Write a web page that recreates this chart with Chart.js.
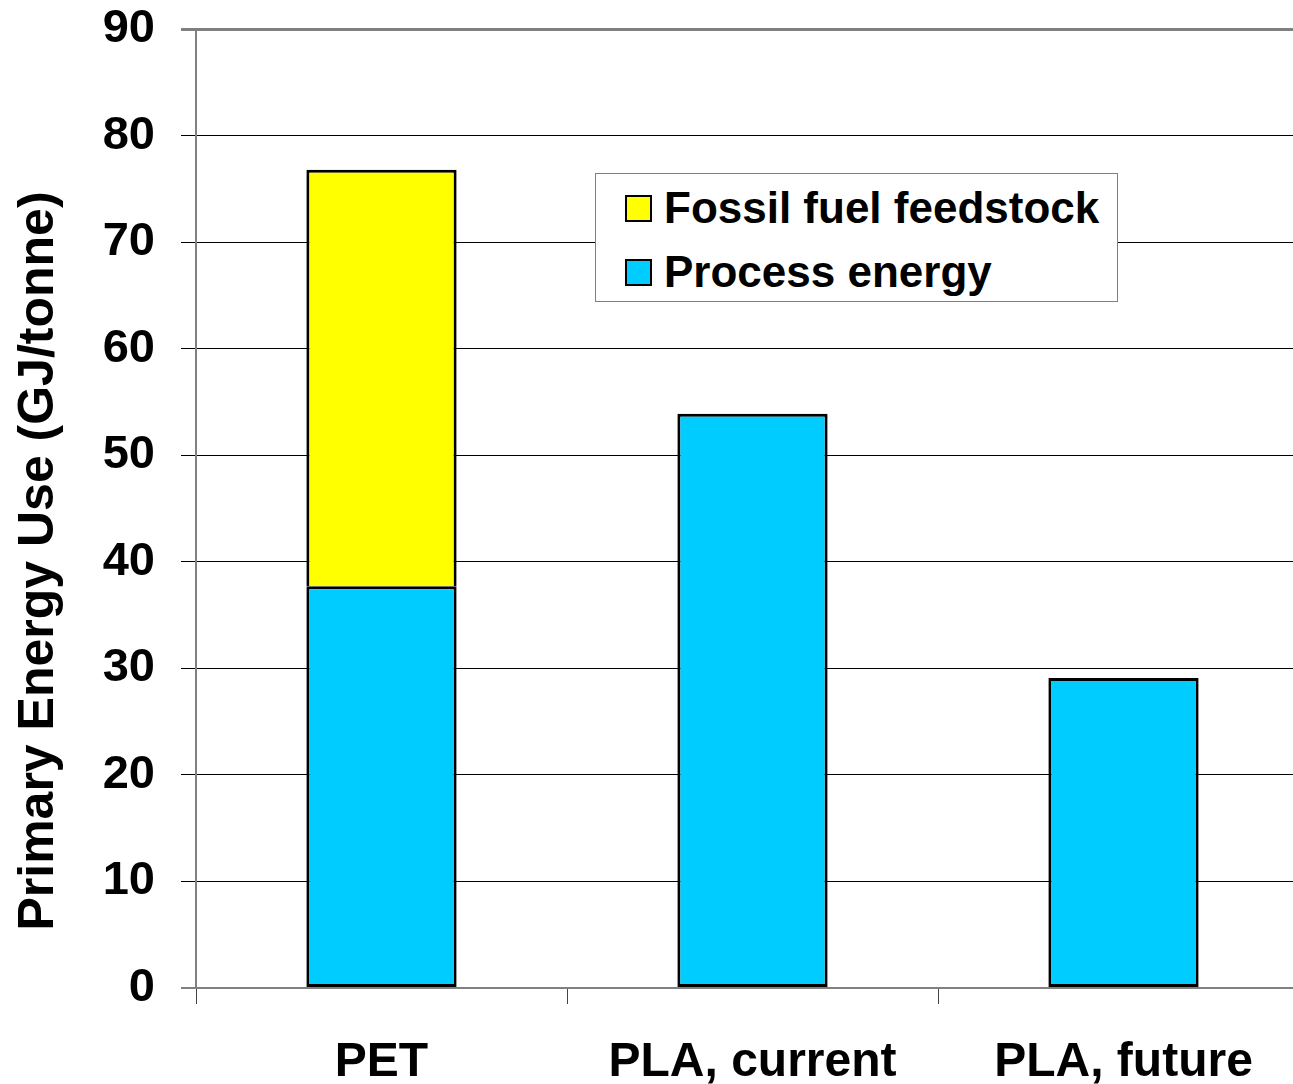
<!DOCTYPE html>
<html>
<head>
<meta charset="utf-8">
<script src="https://cdn.jsdelivr.net/npm/chart.js@4.4.1/dist/chart.umd.min.js"></script>
<style>
  html, body { margin: 0; padding: 0; background: #fff; overflow: hidden; }
  #wrap { position: relative; width: 1310px; height: 1084px; }
  #legend {
    position: absolute; left: 595px; top: 173px; width: 521px; height: 127px;
    border: 1px solid #808080; background: #fff;
    font-family: "Liberation Sans", Arial, sans-serif; font-weight: bold; font-size: 44px; color: #000;
  }
  .item { position: absolute; left: 29px; height: 50px; display: flex; align-items: center; }
  .swatch { width: 23px; height: 23px; border: 2px solid #000; margin-right: 12px; }
</style>
</head>
<body>
<div id="wrap">
  <canvas id="chart" width="1310" height="1084"></canvas>
  <div id="legend"></div>
</div>
<script>
const categories = ['PET', 'PLA, current', 'PLA, future'];
const processEnergy = [37.7, 53.9, 29.1];
const fossilFeedstock = [39.1, null, null];
const yTicks = [0, 10, 20, 30, 40, 50, 60, 70, 80, 90];
const yTitle = 'Primary Energy Use (GJ/tonne)';

const FONT = '"Liberation Sans", Arial, sans-serif';
const GRAY = '#808080';

// y axis title sits a bit lower than the plot centre, so draw it ourselves
const yTitlePlugin = {
    id: 'yTitle',
    afterDraw(chart) {
        const c = chart.ctx;
        c.save();
        c.translate(53, 561);
        c.rotate(-Math.PI / 2);
        c.font = 'bold 50px ' + FONT;
        c.fillStyle = '#000';
        c.textAlign = 'center';
        c.textBaseline = 'alphabetic';
        c.fillText(yTitle, 0, 0);
        c.restore();
    }
};

const chart = new Chart(document.getElementById('chart'), {
    type: 'bar',
    data: {
        labels: categories,
        datasets: [
            { label: 'Process energy', data: processEnergy, backgroundColor: '#00ccff', borderColor: '#000', borderWidth: 3, borderSkipped: false },
            { label: 'Fossil fuel feedstock', data: fossilFeedstock, backgroundColor: '#ffff00', borderColor: '#000', borderWidth: 3, borderSkipped: 'start' }
        ]
    },
    options: {
        responsive: false,
        animation: false,
        layout: { padding: { top: 29, right: 1, left: 0, bottom: 0 } },
        datasets: { bar: { barPercentage: 0.405, categoryPercentage: 1 } },
        plugins: { legend: { display: false }, tooltip: { enabled: false } },
        scales: {
            x: {
                stacked: true,
                afterFit: (s) => { s.height = 96; },
                border: { display: true, color: GRAY, width: 2 },
                grid: { drawOnChartArea: false, drawTicks: true, tickLength: 16, color: '#444', lineWidth: 1 },
                ticks: { color: '#000', padding: 30, font: { family: FONT, size: 48, weight: 'bold' } }
            },
            y: {
                stacked: true,
                min: yTicks[0],
                max: yTicks[yTicks.length - 1],
                afterFit: (s) => { s.width = 196; s.paddingTop = 0; s.paddingBottom = 0; },
                afterBuildTicks: (s) => { s.ticks = yTicks.map(v => ({ value: v })); },
                border: { display: true, color: GRAY, width: 2 },
                grid: {
                    tickLength: 15,
                    color: (ctx) => (ctx.tick && (ctx.tick.value === 90 || ctx.tick.value === 0)) ? GRAY : '#000',
                    lineWidth: (ctx) => (ctx.tick && ctx.tick.value === 90) ? 3 : (ctx.tick && ctx.tick.value === 0 ? 2 : 1)
                },
                ticks: { color: '#000', padding: 26, font: { family: FONT, size: 47, weight: 'bold' } }
            }
        }
    },
    plugins: [yTitlePlugin]
});

// legend box, top entry is the top of the stack
const legendEl = document.getElementById('legend');
chart.data.datasets.slice().reverse().forEach((ds, i) => {
    const item = document.createElement('div');
    item.className = 'item';
    item.style.top = (9 + i * 64) + 'px';
    item.innerHTML = `<span class="swatch" style="background:${ds.backgroundColor}"></span><span>${ds.label}</span>`;
    legendEl.appendChild(item);
});
</script>
</body>
</html>
